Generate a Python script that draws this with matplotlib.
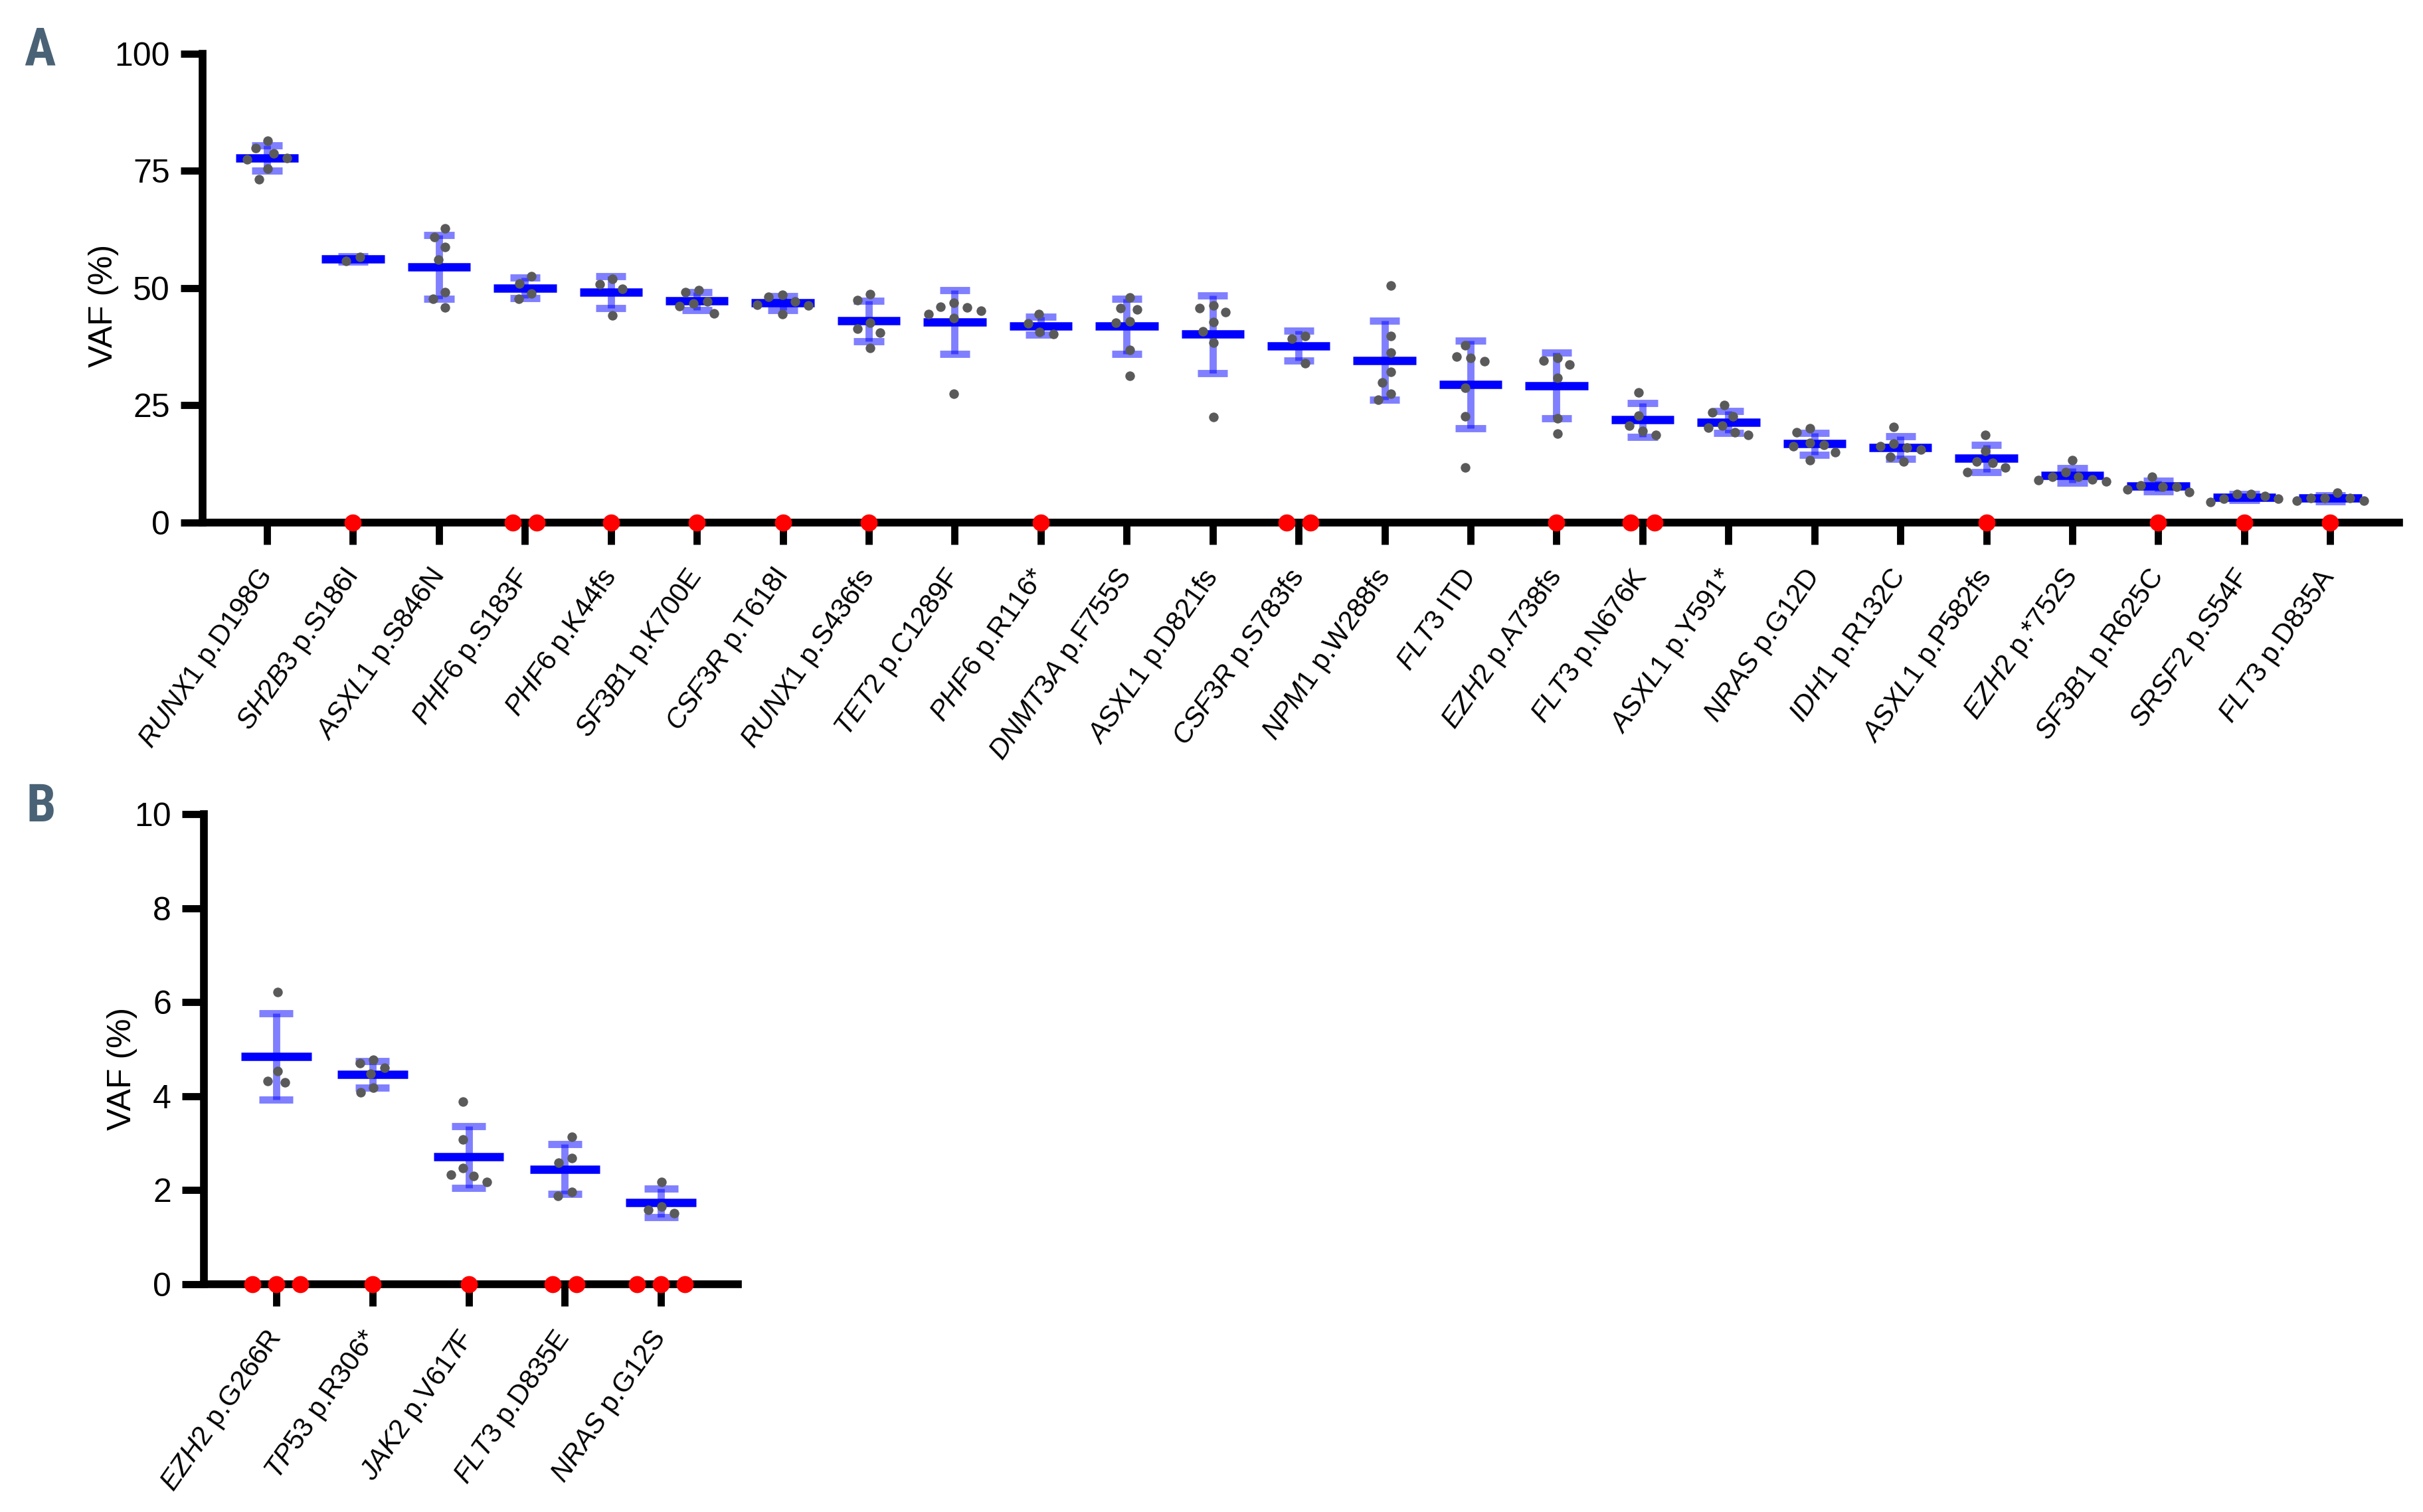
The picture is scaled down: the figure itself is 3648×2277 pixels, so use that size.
import numpy as np
import matplotlib
matplotlib.use("Agg")
import matplotlib.pyplot as plt
from matplotlib import font_manager

# Panel A: mutation, detected VAF values (%), number of undetected (0%) samples
A_genes = ["RUNX1", "SH2B3", "ASXL1", "PHF6", "PHF6", "SF3B1", "CSF3R", "RUNX1",
           "TET2", "PHF6", "DNMT3A", "ASXL1", "CSF3R", "NPM1", "FLT3", "EZH2",
           "FLT3", "ASXL1", "NRAS", "IDH1", "ASXL1", "EZH2", "SF3B1", "SRSF2", "FLT3"]
A_changes = ["p.D198G", "p.S186I", "p.S846N", "p.S183F", "p.K44fs", "p.K700E", "p.T618I",
             "p.S436fs", "p.C1289F", "p.R116*", "p.F755S", "p.D821fs", "p.S783fs",
             "p.W288fs", "ITD", "p.A738fs", "p.N676K", "p.Y591*", "p.G12D", "p.R132C",
             "p.P582fs", "p.*752S", "p.R625C", "p.S54F", "p.D835A"]
A_points = [
    [81.4, 79.9, 78.7, 77.8, 77.5, 75.5, 73.2],
    [56.6, 55.8],
    [62.8, 60.9, 58.7, 56.1, 49.2, 47.7, 45.9],
    [52.6, 51.0, 48.8, 47.7],
    [51.9, 50.8, 49.8, 44.2],
    [49.6, 49.2, 47.2, 46.7, 46.1, 44.6],
    [48.5, 48.2, 47.1, 46.5, 46.3, 44.4],
    [48.7, 47.5, 42.6, 41.3, 40.5, 37.3],
    [46.8, 46.0, 45.9, 45.2, 44.4, 43.6, 27.5],
    [44.5, 42.5, 40.7, 40.2],
    [48.0, 45.8, 45.5, 42.9, 42.6, 36.8, 31.3],
    [46.3, 45.7, 44.9, 42.8, 40.8, 38.3, 22.5],
    [39.8, 39.2, 34.0],
    [50.5, 39.8, 36.2, 32.2, 29.9, 27.5, 26.2],
    [37.8, 35.4, 35.1, 34.4, 28.7, 22.6, 11.7],
    [35.1, 34.6, 33.7, 30.9, 22.2, 18.9],
    [27.8, 22.8, 20.6, 19.6, 18.7],
    [25.0, 23.5, 22.6, 20.6, 20.2, 19.2, 18.7],
    [20.1, 19.2, 17.0, 16.6, 16.3, 15.0, 13.3],
    [20.4, 16.9, 16.3, 16.0, 15.5, 14.0, 13.0],
    [18.7, 15.3, 13.0, 12.7, 11.7, 10.8],
    [13.3, 10.7, 9.7, 9.7, 9.2, 9.0, 8.8],
    [9.7, 7.9, 7.7, 7.7, 7.1, 6.5],
    [6.1, 6.1, 5.7, 5.1, 5.1, 4.4],
    [6.4, 5.2, 5.2, 5.2, 4.7, 4.6],
]
A_zero = [0, 1, 0, 2, 1, 1, 1, 1, 0, 1, 0, 0, 2, 0, 0, 1, 2, 0, 0, 0, 1, 0, 1, 1, 1]

# Panel B
B_genes = ["EZH2", "TP53", "JAK2", "FLT3", "NRAS"]
B_changes = ["p.G266R", "p.R306*", "p.V617F", "p.D835E", "p.G12S"]
B_points = [
    [6.22, 4.54, 4.33, 4.29],
    [4.77, 4.70, 4.60, 4.48, 4.18, 4.08],
    [3.89, 3.08, 2.48, 2.33, 2.30, 2.18],
    [3.14, 2.68, 2.59, 1.96, 1.88],
    [2.18, 1.66, 1.59, 1.51],
]
B_zero = [3, 1, 1, 2, 3]

A_yticks = [0, 25, 50, 75, 100]
B_yticks = [0, 2, 4, 6, 8, 10]


def find_narrow_bold():
    # look for an installed condensed / narrow bold face for the panel letters
    prefs = ["Liberation Sans Narrow", "DejaVu Sans Condensed", "Roboto Condensed",
             "Open Sans Condensed", "Noto Sans Condensed", "DejaVu Sans"]
    found = []
    for f in font_manager.fontManager.ttflist:
        w = f.weight
        bold = w == "bold" or (isinstance(w, int) and w >= 600)
        narrow = ("Narrow" in f.name or "Condensed" in f.name or "ondensed" in f.fname
                  or f.stretch in ("condensed", "semi-condensed", "extra-condensed"))
        if bold and narrow:
            found.append(f)
    for p in prefs:
        for f in found:
            if f.name == p:
                return font_manager.FontProperties(fname=f.fname)
    if found:
        return font_manager.FontProperties(fname=found[0].fname)
    return font_manager.FontProperties(family="Liberation Sans", weight="bold")


plt.rcParams["font.family"] = ["Liberation Sans", "DejaVu Sans"]
plt.rcParams["mathtext.fontset"] = "custom"
plt.rcParams["mathtext.it"] = "Liberation Sans:italic"
plt.rcParams["mathtext.rm"] = "Liberation Sans"

mean_col = "#0000ff"
err_col = (0.0, 0.0, 1.0, 0.5)
grey = "#5a5a5a"


def swarm(vals, sx, sy, d):
    # simple beeswarm in pixel space, returns x offsets in data units
    placed = []
    for v in vals:
        y = v * sy
        cands = [0.0]
        for px, py in placed:
            dy = y - py
            if abs(dy) < d:
                w = np.sqrt(d * d - dy * dy)
                cands += [px - w, px + w]
        ok = [c for c in cands
              if all((c - px) ** 2 + (y - py) ** 2 >= d * d - 1e-6 for px, py in placed)]
        best = min(ok, key=lambda c: (round(abs(c), 6), c))
        placed.append((best, y))
    xs = np.array([p[0] for p in placed])
    xs -= (xs.max() + xs.min()) / 2
    return xs / sx


def draw_panel(ax, genes, changes, points, zeros, yticks):
    n = len(genes)
    x = np.arange(n)
    ax.set_xlim(-0.75, n - 1 + 0.8)
    ax.set_ylim(0, yticks[-1])

    means = np.array([np.mean(p) for p in points])
    sds = np.array([np.std(p, ddof=1) for p in points])

    ax.vlines(x, means - sds, means + sds, color=err_col, lw=2.6, zorder=2)
    ax.hlines(means + sds, x - 0.175, x + 0.175, color=err_col, lw=2.6, zorder=2)
    ax.hlines(means - sds, x - 0.175, x + 0.175, color=err_col, lw=2.6, zorder=2)
    ax.hlines(means, x - 0.365, x + 0.365, color=mean_col, lw=3.0, zorder=3)

    sx = ax.bbox.width / (ax.get_xlim()[1] - ax.get_xlim()[0])
    sy = ax.bbox.height / (ax.get_ylim()[1] - ax.get_ylim()[0])
    for i, p in enumerate(points):
        off = swarm(p, sx, sy, 21)
        ax.scatter(i + off, p, s=12, color=grey, lw=0, zorder=4)
    for i, k in enumerate(zeros):
        if k == 0:
            continue
        z = np.zeros(k)
        off = swarm(z, sx, sy, 36)
        ax.scatter(i + off, z, s=38, color="#ff0000", lw=0, zorder=6, clip_on=False)

    for s in ["top", "right"]:
        ax.spines[s].set_visible(False)
    for s in ["left", "bottom"]:
        ax.spines[s].set_linewidth(2.8)
    ax.set_yticks(yticks)
    ax.set_xticks(x)
    ax.set_xticklabels([r"$\mathit{%s}$ %s" % (g, c) for g, c in zip(genes, changes)],
                       rotation=55, ha="right", va="center", rotation_mode="anchor")
    ax.tick_params(axis="both", width=2.6, length=8, direction="out")
    ax.tick_params(axis="y", labelsize=12, pad=3.8)
    ax.tick_params(axis="x", labelsize=10, pad=10)
    ax.set_ylabel("VAF (%)", fontsize=12)


fig = plt.figure(figsize=(12.16, 7.59), dpi=300)
axA = fig.add_axes([0.0836, 0.6544, 0.9065, 0.3101])
axB = fig.add_axes([0.0842, 0.1506, 0.2204, 0.3109])

draw_panel(axA, A_genes, A_changes, A_points, A_zero, A_yticks)
draw_panel(axB, B_genes, B_changes, B_points, B_zero, B_yticks)
axA.yaxis.set_label_coords(-0.038, 0.4625)
axB.yaxis.set_label_coords(-0.124, 0.459)

letter_fp = find_narrow_bold()
letter_fp.set_size(19)
fig.text(0.0099, 1 - 98 / 2277, "A", fontproperties=letter_fp, color="#4a6275",
         ha="left", va="baseline")
fig.text(0.0107, 1 - 1237 / 2277, "B", fontproperties=letter_fp, color="#4a6275",
         ha="left", va="baseline")

fig.savefig("out.png", dpi=300)
